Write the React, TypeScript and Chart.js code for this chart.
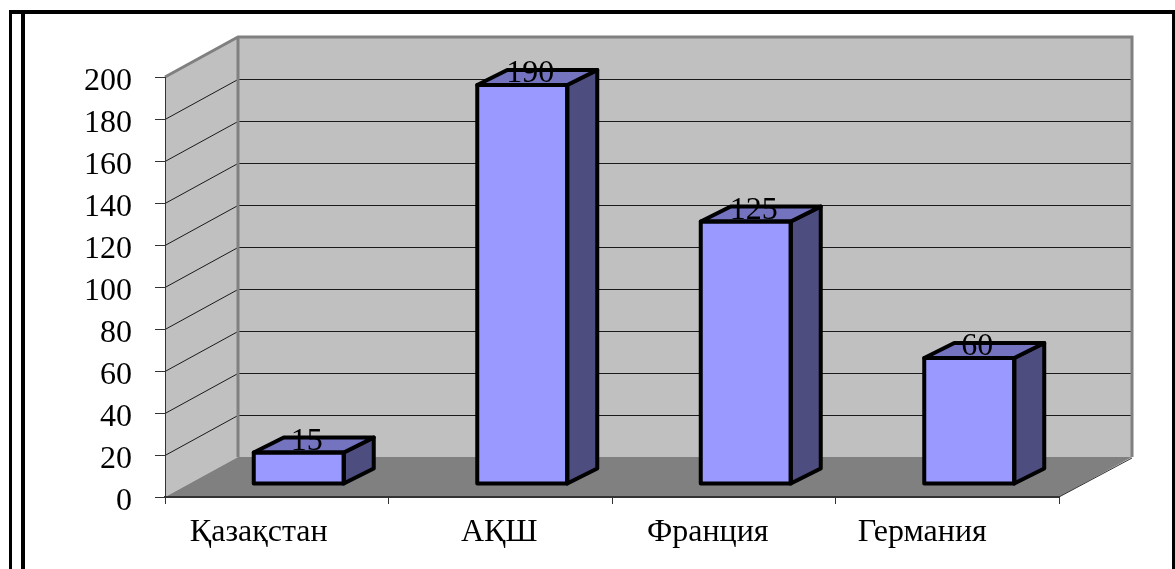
import React, { useEffect, useRef } from "react";
import { Chart, registerables } from "chart.js";

Chart.register(...registerables);

const categories = ["Қазақстан", "АҚШ", "Франция", "Германия"];
const values = [15, 190, 125, 60];
const yTicksMax = 200;
const yTickStep = 20;

const FONT = "'Liberation Serif', 'Times New Roman', serif";
const labelNudge = [-18, -1, -16, -25];
const wallDepth = { x: 73, y: -40 };
const barShift = { x: 22, y: -13 };
const barDepth = { x: 30, y: -15 };

const frame3d = {
  id: "frame3d",
  beforeDraw(chart: any) {
    const { ctx, chartArea: a, scales } = chart;
    const { left: l, right: r, top: t, bottom: b } = a;
    const d = wallDepth;
    ctx.save();
    // page frame
    ctx.fillStyle = "#000";
    ctx.fillRect(9, 10, 1166, 4);
    ctx.fillRect(9, 10, 3, 559);
    ctx.fillRect(21, 10, 4, 559);
    ctx.fillRect(1172, 10, 3, 559);
    // walls
    ctx.fillStyle = "#c0c0c0";
    ctx.beginPath();
    ctx.moveTo(l, t);
    ctx.lineTo(l + d.x, t + d.y);
    ctx.lineTo(l + d.x, b + d.y);
    ctx.lineTo(l, b);
    ctx.closePath();
    ctx.fill();
    ctx.fillRect(l + d.x, t + d.y, r - l, b - t);
    // grid lines
    ctx.strokeStyle = "#1a1a1a";
    ctx.lineWidth = 1;
    scales.y.ticks.forEach((tick: any) => {
      if (tick.value === 0 || tick.value === yTicksMax) return;
      const y = Math.round(scales.y.getPixelForValue(tick.value)) + 0.5;
      ctx.beginPath();
      ctx.moveTo(l, y);
      ctx.lineTo(l + d.x, y + d.y);
      ctx.lineTo(r + d.x, y + d.y);
      ctx.stroke();
    });
    // floor
    ctx.fillStyle = "#808080";
    ctx.beginPath();
    ctx.moveTo(l, b);
    ctx.lineTo(l + d.x, b + d.y);
    ctx.lineTo(r + d.x, b + d.y);
    ctx.lineTo(r, b);
    ctx.closePath();
    ctx.fill();
    // wall edges
    ctx.strokeStyle = "#808080";
    ctx.lineWidth = 3;
    ctx.beginPath();
    ctx.moveTo(l, t);
    ctx.lineTo(l + d.x, t + d.y);
    ctx.lineTo(r + d.x, t + d.y);
    ctx.lineTo(r + d.x, b + d.y);
    ctx.moveTo(l + d.x, t + d.y);
    ctx.lineTo(l + d.x, b + d.y);
    ctx.stroke();
    ctx.strokeStyle = "#333";
    ctx.lineWidth = 1;
    ctx.beginPath();
    ctx.moveTo(r, b);
    ctx.lineTo(r + d.x, b + d.y + 1);
    ctx.stroke();
    ctx.restore();
    // shift the category labels
    const items = scales.x.getLabelItems();
    items.forEach((it: any, i: number) => {
      it.options.translation[0] = scales.x.getPixelForTick(i) + labelNudge[i];
    });
  },
  beforeDatasetsDraw(chart: any) {
    chart.ctx.save();
    chart.ctx.translate(barShift.x, barShift.y);
  },
  afterDatasetsDraw(chart: any) {
    const { ctx } = chart;
    const bars = chart.getDatasetMeta(0).data;
    const d = barDepth;
    ctx.lineWidth = 4;
    ctx.lineJoin = "round";
    ctx.strokeStyle = "#000";
    bars.forEach((el: any) => {
      const p = el.getProps(["x", "y", "base", "width"], true);
      const x0 = p.x - p.width / 2;
      const x1 = p.x + p.width / 2;
      ctx.fillStyle = "#4d4d80";
      ctx.beginPath();
      ctx.moveTo(x1, p.y);
      ctx.lineTo(x1 + d.x, p.y + d.y);
      ctx.lineTo(x1 + d.x, p.base + d.y);
      ctx.lineTo(x1, p.base);
      ctx.closePath();
      ctx.fill();
      ctx.stroke();
      ctx.fillStyle = "#7373bf";
      ctx.beginPath();
      ctx.moveTo(x0, p.y);
      ctx.lineTo(x0 + d.x, p.y + d.y);
      ctx.lineTo(x1 + d.x, p.y + d.y);
      ctx.lineTo(x1, p.y);
      ctx.closePath();
      ctx.fill();
      ctx.stroke();
      ctx.strokeRect(x0, p.y, p.width, p.base - p.y);
    });
    ctx.fillStyle = "#000";
    ctx.font = `32px ${FONT}`;
    ctx.textAlign = "center";
    ctx.textBaseline = "alphabetic";
    bars.forEach((el: any, i: number) => {
      ctx.fillText(String(values[i]), el.x + 8, el.y - 3);
    });
    ctx.restore();
  },
};

export default function App() {
  const ref = useRef<HTMLCanvasElement>(null);
  useEffect(() => {
    const chart = new Chart(ref.current as HTMLCanvasElement, {
      type: "bar",
      data: {
        labels: categories,
        datasets: [
          { data: values, backgroundColor: "#9999ff", borderWidth: 0, barThickness: 90 },
        ],
      },
      plugins: [frame3d],
      options: {
        animation: false,
        responsive: false,
        devicePixelRatio: 1,
        layout: { padding: { left: 0, right: 116, top: 77, bottom: 0 } },
        plugins: { legend: { display: false }, tooltip: { enabled: false } },
        scales: {
          x: {
            afterFit(scale: any) {
              scale.height = 72;
            },
            grid: { drawOnChartArea: false, drawTicks: true, tickLength: 7, tickColor: "#333", tickWidth: 1 },
            border: { color: "#333", width: 2 },
            ticks: {
              color: "#000",
              font: { family: FONT, size: 32 },
              padding: 9,
              maxRotation: 0,
              minRotation: 0,
              autoSkip: false,
            },
          },
          y: {
            min: 0,
            max: yTicksMax,
            afterFit(scale: any) {
              scale.width = 165;
            },
            grid: { drawOnChartArea: false, drawTicks: true, tickLength: 10, tickColor: "#333", tickWidth: 1 },
            border: { color: "#333", width: 1 },
            ticks: {
              stepSize: yTickStep,
              color: "#000",
              font: { family: FONT, size: 32 },
              padding: 23,
              labelOffset: 5,
            },
          },
        },
      } as any,
    });
    return () => chart.destroy();
  }, []);
  return (
    <div style={{ position: "absolute", left: 0, top: 0, width: 1175, height: 569, background: "#fff" }}>
      <canvas ref={ref} width={1175} height={569} style={{ display: "block" }} />
    </div>
  );
}
